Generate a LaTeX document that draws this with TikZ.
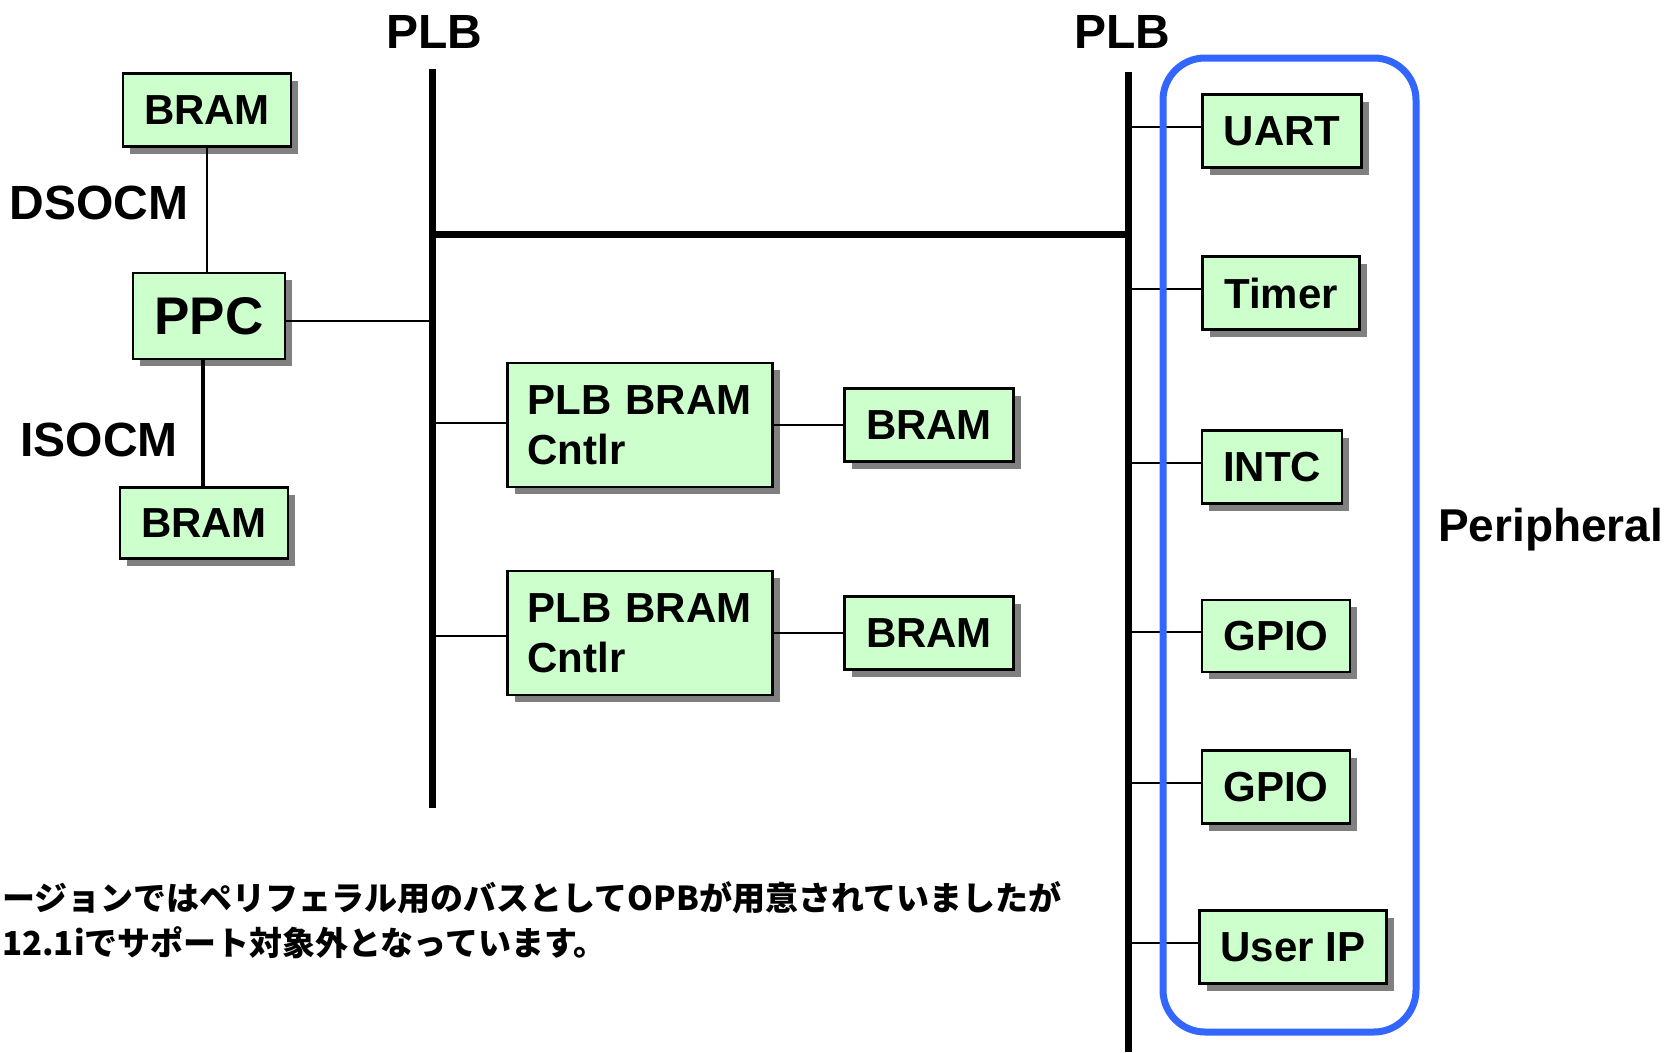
\documentclass[tikz,border=0pt]{standalone}
\usepackage{fontspec}
\setmainfont{Liberation Sans}
\newfontfamily\jpfont{Noto Sans CJK JP}
\usetikzlibrary{shadows}
\definecolor{boxgreen}{HTML}{CCFFCC}
\definecolor{perblue}{HTML}{3366FF}
\definecolor{shadowgray}{HTML}{808080}
\tikzset{
  blk/.style={draw=black, line width=2.5pt, fill=boxgreen, inner sep=0pt,
    minimum height=73pt,
    font=\bfseries\fontsize{42}{50}\selectfont,
    drop shadow={shadow xshift=7pt, shadow yshift=-7pt, fill=shadowgray, opacity=1}},
  ctl/.style={blk, align=left, text width=225pt, inner xsep=20pt, inner ysep=0pt, minimum height=124pt},
  lbl/.style={inner sep=0pt, font=\bfseries\fontsize{48}{56}\selectfont},
  bus/.style={line width=7pt, black},
  conn/.style={line width=2.2pt, black},
}
\begin{document}
\begin{tikzpicture}[x=1pt, y=-1pt]
\useasboundingbox (0,0) rectangle (1673,1052);
% bus coordinates
\coordinate (lbT) at (432,69);
\coordinate (lbB) at (432,808);
\coordinate (rbT) at (1128,72);
\coordinate (rbB) at (1128,1052);
\coordinate (hbL) at (432,234);
\coordinate (hbR) at (1128,234);
% labels
\node[lbl] (plbL) at (434,32) {PLB};
\node[lbl] (plbR) at (1122,32) {PLB};
\node[lbl] (dsocm) at (99,203) {DSOCM};
\node[lbl] (isocm) at (99,440) {ISOCM};
\node[lbl, anchor=west, font=\bfseries\fontsize{46}{54}\selectfont] (periph) at (1438,530) {Peripheral};
% left blocks
\node[blk, minimum width=168pt] (bramA) at (207,110) {BRAM};
\node[blk, minimum width=152pt, minimum height=86pt, font=\bfseries\fontsize{53}{60}\selectfont] (ppc) at (209,316) {PPC};
\node[blk, minimum width=168pt, minimum height=71pt] (bramB) at (204,523) {BRAM};
% controllers
\node[ctl] (cntlA) at (640,425) {PLB BRAM\\Cntlr};
\node[blk, minimum width=169pt] (bramC) at (929,425) {BRAM};
\node[ctl] (cntlB) at (640,633) {PLB BRAM\\Cntlr};
\node[blk, minimum width=169pt] (bramD) at (929,633) {BRAM};
% peripherals
\node[blk, minimum width=159pt] (uart) at (1282,131) {UART};
\node[blk, minimum width=157pt] (timer) at (1281,293) {Timer};
\node[blk, minimum width=140pt] (intc) at (1272,467) {INTC};
\node[blk, minimum width=148pt, minimum height=72pt] (gpioA) at (1276,636) {GPIO};
\node[blk, minimum width=148pt] (gpioB) at (1276,787) {GPIO};
\node[blk, minimum width=187pt] (userip) at (1293,947) {User IP};
% buses
\draw[bus] (lbT) -- (lbB);
\draw[bus] (rbT) -- (rbB);
\draw[bus] (hbL) -- (hbR);
% connectors
\draw[conn] (bramA.south) -- (bramA.south |- ppc.north);
\draw[line width=3.5pt] (bramB.north -| 203,0) -- (ppc.south -| 203,0);
\draw[conn] ([yshift=-5pt]ppc.east) -- ([yshift=-5pt]ppc.east -| lbT);
\draw[conn] ([yshift=2pt]cntlA.west) -- ([yshift=2pt]cntlA.west -| lbT);
\draw[conn] ([yshift=-3pt]cntlB.west) -- ([yshift=-3pt]cntlB.west -| lbT);
\draw[conn] (cntlA.east) -- (bramC.west);
\draw[conn] (cntlB.east) -- (bramD.west);
\foreach \n in {uart,timer,intc,gpioA,gpioB,userip}{
  \draw[conn] ([yshift=4pt]\n.west) -- ([yshift=4pt]\n.west -| rbT);
}
% peripheral group outline
\draw[perblue, line width=7pt, rounded corners=42pt] (1163,58) rectangle (1416,1032);
% note
\node[anchor=west, align=left, inner sep=0pt, font=\jpfont\bfseries\fontsize{33}{45}\selectfont] (note) at (2,920)
  {ージョンではペリフェラル用のバスとしてOPBが用意されていましたが\\12.1iでサポート対象外となっています。};
\end{tikzpicture}
\end{document}
